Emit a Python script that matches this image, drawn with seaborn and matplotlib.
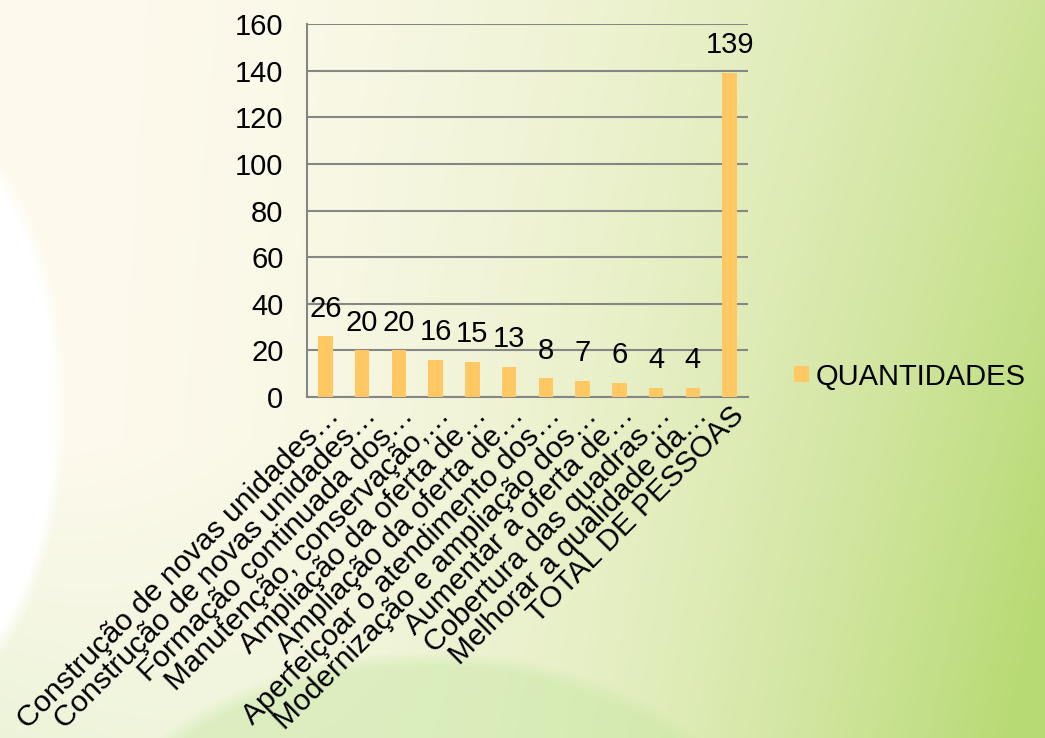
import numpy as np
import pandas as pd
import matplotlib
matplotlib.use('Agg')
import matplotlib.pyplot as plt
import seaborn as sns

categorias = [
    'Construção de novas unidades…',
    'Construção de novas unidades…',
    'Formação continuada dos…',
    'Manutenção, conservação,…',
    'Ampliação da oferta de…',
    'Ampliação da oferta de…',
    'Aperfeiçoar o atendimento dos…',
    'Modernização e ampliação dos…',
    'Aumentar a oferta de…',
    'Cobertura das quadras…',
    'Melhorar a qualidade da…',
    'TOTAL DE PESSOAS',
]
quantidades = [26, 20, 20, 16, 15, 13, 8, 7, 6, 4, 4, 139]
yticks = [0, 20, 40, 60, 80, 100, 120, 140, 160]

sns.set_style('white')
plt.rcParams['font.family'] = ['Liberation Sans', 'DejaVu Sans']
plt.rcParams['text.color'] = 'black'
plt.rcParams['xtick.color'] = 'black'
plt.rcParams['ytick.color'] = 'black'

df = pd.DataFrame({'pos': range(len(quantidades)), 'QUANTIDADES': quantidades})

fig = plt.figure(figsize=(10.45, 7.38), dpi=100)

# fundo em degrade (so decoracao)
H, W = 738, 1045
yy, xx = np.mgrid[0:H, 0:W].astype(float)
u = xx / W
v = yy / H
cream = np.array([254, 250, 238]) / 255
green = np.array([184, 218, 116]) / 255
t = np.clip(0.72 * u ** 2.0 + 0.35 * v * u ** 1.8, 0, 1)
img = cream[None, None, :] * (1 - t[..., None]) + green[None, None, :] * t[..., None]
# verde claro no canto inferior esquerdo
t2 = np.clip((v - 0.6) / 0.4, 0, 1) * np.clip(1 - u / 0.6, 0, 1) * 0.45
img = img * (1 - t2[..., None]) + t2[..., None] * np.array([215, 236, 190]) / 255
# mancha branca a esquerda
blob = ((xx + 70) / 135.0) ** 2 + ((yy - 410) / 290.0) ** 2
a = np.clip((1.0 - blob) * 6, 0, 1)[..., None]
img = img * (1 - a) + a * np.array([1.0, 1.0, 1.0])
# mancha verde embaixo
blob2 = ((xx - 430) / 360.0) ** 2 + ((yy - 900) / 250.0) ** 2
a2 = np.clip((1.0 - blob2) * 8, 0, 1)[..., None] * 0.45
img = img * (1 - a2) + a2 * np.array([196, 230, 160]) / 255
bg = fig.add_axes([0, 0, 1, 1], zorder=-1)
bg.imshow(img, aspect='auto', extent=[0, 1, 0, 1], interpolation='bilinear')
bg.axis('off')

ax = fig.add_axes([0.2938, 0.462, 0.422, 0.5055])
ax.patch.set_alpha(0)
sns.barplot(data=df, x='pos', y='QUANTIDADES', color='#FFC862', width=0.4,
            saturation=1, ax=ax, label='QUANTIDADES', zorder=3, linewidth=0)

ax.set_ylim(0, 160)
ax.set_xlim(-0.5, len(quantidades) - 0.5)
ax.set_yticks(yticks)
ax.set_yticklabels([str(t) for t in yticks], fontsize=21)
ax.set_xticks(range(len(categorias)))
ax.set_xticklabels(categorias, fontsize=21.5, rotation=45, ha='right', va='top',
                   rotation_mode='anchor')
ax.set_xticks(np.arange(-0.5, len(categorias), 1.0), minor=True)
ax.tick_params(axis='x', which='major', length=0, pad=3)
ax.tick_params(axis='x', which='minor', length=7, width=1.5, color='#868686', direction='out')
ax.tick_params(axis='y', length=7, width=1.5, color='#868686', direction='out', pad=10)
ax.set_xlabel('')
ax.set_ylabel('')

ax.grid(axis='y', color='#868686', linewidth=1.5, zorder=0)
ax.set_axisbelow(True)
for s in ['top', 'right']:
    ax.spines[s].set_visible(False)
for s in ['left', 'bottom']:
    ax.spines[s].set_color('#868686')
    ax.spines[s].set_linewidth(1.5)

for c in ax.containers:
    ax.bar_label(c, fontsize=21, padding=10)

ax.legend(loc='center left', bbox_to_anchor=(1.045, 0.055), frameon=False,
          fontsize=21, handlelength=0.5, handleheight=0.5, handletextpad=0.25)

fig.savefig('out.png', dpi=100)
